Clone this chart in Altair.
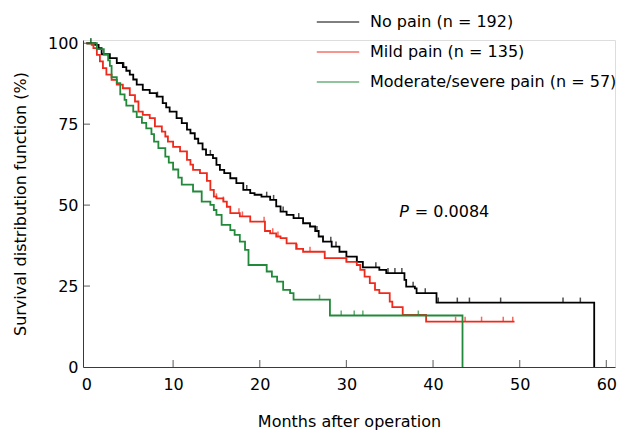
import altair as alt
import pandas as pd

# ---- data ----
groups = ["No pain (n = 192)", "Mild pain (n = 135)", "Moderate/severe pain (n = 57)"]
colors = ["#000000", "#ee2a1c", "#22893a"]

no_t = [0, 1.0, 1.4, 1.75, 2.7, 3.5, 4.2, 4.6, 5.0, 5.4, 5.8, 6.5, 7.3, 8.1, 8.8, 9.2, 9.6, 10.4,
        11.0, 11.6, 12.0, 12.5, 12.9, 13.4, 13.8, 14.6, 15.0, 15.4, 15.9, 16.6, 17.3, 18.1, 18.9,
        19.4, 20.2, 21.2, 21.9, 22.4, 23.1, 23.9, 25.0, 25.8, 26.4, 26.8, 27.3, 28.3, 29.2, 30.0,
        31.2, 31.9, 33.8, 34.6, 36.7, 36.9, 37.9, 38.1, 40.4, 58.6, 58.6]
no_s = [100, 99.5, 98.5, 96.6, 95.4, 93.9, 92.6, 91.5, 90.3, 88.8, 87.2, 85.6, 84.6, 83.5, 81.5, 80.2, 78.9, 76.9,
        75.3, 73.3, 72.2, 70.5, 69.1, 67.2, 65.5, 64.5, 62.4, 60.9, 59.9, 58.3, 56.8, 54.7, 53.7,
        53.2, 52.6, 51.6, 49.6, 48.0, 47.0, 46.0, 44.4, 43.4, 42.0, 40.3, 38.7, 37.2, 35.6, 34.1,
        32.5, 30.8, 30.0, 29.0, 26.9, 24.8, 24.3, 22.8, 19.9, 19.9, 0]
no_cens = [0.5, 4.3, 8.2, 14.3, 18.5, 20.8, 21.6, 22.7, 24.5, 26.6, 28.2, 28.8, 31.2, 33.4, 34.8,
           35.6, 36.4, 37.7, 39.1, 40.6, 42.8, 44.2, 47.8, 55.0, 57.0]

mild_t = [0, 0.6, 0.8, 1.2, 1.55, 1.9, 2.3, 2.9, 3.5, 4.2, 5.0, 5.6, 6.0, 6.5, 7.3, 7.9, 8.7, 9.1, 9.4,
          10.0, 10.8, 11.6, 12.0, 12.3, 13.1, 13.9, 14.3, 14.7, 15.0, 15.8, 16.2, 16.6, 17.7, 18.9,
          20.6, 21.2, 21.9, 22.4, 23.1, 24.2, 25.0, 27.5, 30.0, 31.2, 31.6, 32.1, 32.7, 33.3, 33.8,
          35.0, 35.3, 36.5, 39.2, 49.4]
mild_s = [100, 99.5, 98.5, 96.4, 94.4, 92.3, 90.3, 88.7, 87.2, 86.1, 84.0, 82.0, 78.9, 77.9, 76.9, 74.3, 72.7, 71.2, 69.6,
          68.0, 66.6, 64.0, 62.5, 60.9, 59.9, 57.5, 54.7, 52.6, 52.1, 51.1, 49.5, 47.5, 46.5, 44.9,
          42.0, 41.3, 40.3, 39.8, 38.2, 36.5, 35.6, 33.6, 32.5, 31.5, 30.0, 27.9, 25.9, 23.8, 22.8,
          20.2, 18.5, 16.1, 14.0, 14.0]
mild_cens = [15.0, 15.8, 17.6, 18.0, 20.5, 21.5, 22.1, 24.3, 25.8, 30.0, 42.6, 43.7, 45.6, 48.1, 49.2]

mod_t = [0, 1.2, 2.0, 2.5, 2.7, 2.9, 3.5, 3.9, 4.4, 4.6, 5.4, 5.8, 6.4, 6.9, 7.5, 7.8, 8.3, 9.1, 9.5,
         10.0, 10.6, 11.0, 12.3, 13.3, 14.3, 14.7, 15.0, 15.6, 16.6, 17.1, 17.7, 18.3, 18.7, 20.8,
         21.4, 22.0, 22.7, 23.5, 23.9, 28.1, 43.4, 43.4]
mod_s = [100, 98.2, 96.5, 94.7, 93.0, 89.5, 87.7, 84.2, 82.5, 80.7, 78.9, 77.2, 75.4, 73.7, 71.9, 69.6, 67.6, 65.0, 63.1,
         61.0, 58.5, 56.3, 54.2, 51.1, 50.1, 48.5, 47.0, 43.9, 42.3, 40.8, 38.7, 36.2, 31.5, 29.5,
         27.9, 26.4, 23.8, 22.8, 20.8, 15.9, 15.9, 0]
mod_cens = [0.5, 26.9, 29.4, 30.9, 31.9, 38.3]

x_ticks = [10, 20, 30, 40, 50, 60]
y_ticks = [25, 50, 75, 100]
X_MIN, X_MAX = -0.4, 61
Y_MIN, Y_MAX = 0, 101

# ---- build tables ----
def surv_at(ts, ss, t):
    v = ss[0]
    for ti, si in zip(ts, ss):
        if ti <= t:
            v = si
    return v

series = [(no_t, no_s, no_cens), (mild_t, mild_s, mild_cens), (mod_t, mod_s, mod_cens)]
rows, cens_rows = [], []
for g, (ts, ss, cs) in zip(groups, series):
    for i, (t, s) in enumerate(zip(ts, ss)):
        rows.append({"group": g, "t": t, "s": s, "order": i})
    for c in cs:
        cens_rows.append({"group": g, "t": c, "s": surv_at(ts, ss, c)})
df = pd.DataFrame(rows)
cdf = pd.DataFrame(cens_rows)

FONT = "DejaVu Sans"
AX = "#3a3a3a"

xs = alt.Scale(domain=[X_MIN, X_MAX], nice=False, zero=False)
ys = alt.Scale(domain=[Y_MIN, Y_MAX], nice=False)
color = alt.Color("group:N", scale=alt.Scale(domain=groups, range=colors),
                  legend=alt.Legend(title=None, orient="none", legendX=233, legendY=-40,
                                    symbolType="stroke", symbolSize=1800, symbolStrokeWidth=1,
                                    labelFontSize=16, labelFont=FONT, labelColor="#000",
                                    rowPadding=0, labelOffset=10, labelLimit=400))

lines = alt.Chart(df).mark_line(interpolate="step-after", strokeWidth=1.8).encode(
    x=alt.X("t:Q", scale=xs,
            axis=alt.Axis(title="Months after operation", values=x_ticks + [0], ticks=False,
                          tickSize=0, labelPadding=9, grid=False, domainColor=AX,
                          labelFontSize=16, labelFont=FONT, labelColor="#000",
                          titleFontSize=16, titleFont=FONT, titleFontWeight="normal",
                          titleColor="#000", titlePadding=21)),
    y=alt.Y("s:Q", scale=ys,
            axis=alt.Axis(title="Survival distribution function (%)", values=[0] + y_ticks,
                          ticks=False, tickSize=0, labelPadding=5, grid=False, domainColor=AX,
                          labelFontSize=16, labelFont=FONT, labelColor="#000",
                          titleFontSize=16, titleFont=FONT, titleFontWeight="normal",
                          titleColor="#000", titlePadding=19)),
    color=color,
    order="order:Q",
)

cens = alt.Chart(cdf).mark_tick(orient="vertical", size=5, thickness=1.5, yOffset=-2.5).encode(
    x=alt.X("t:Q", scale=xs), y=alt.Y("s:Q", scale=ys),
    color=alt.Color("group:N", scale=alt.Scale(domain=groups, range=colors), legend=None),
)

xt = alt.Chart(pd.DataFrame({"v": x_ticks})).mark_tick(
    orient="vertical", size=7, thickness=1.2, yOffset=-3.5, color=AX).encode(
    x=alt.X("v:Q", scale=xs), y=alt.datum(0))
yt = alt.Chart(pd.DataFrame({"v": y_ticks})).mark_tick(
    orient="horizontal", size=7, thickness=1.2, xOffset=3.5, color=AX).encode(
    y=alt.Y("v:Q", scale=ys), x=alt.datum(X_MIN))

p_lab = alt.Chart(pd.DataFrame({"t": [37.2], "s": [47.9]})).mark_text(
    text="P", fontStyle="italic", align="right", fontSize=16, font=FONT, color="#000").encode(
    x=alt.X("t:Q", scale=xs), y=alt.Y("s:Q", scale=ys))
p_val = alt.Chart(pd.DataFrame({"t": [37.2], "s": [47.9]})).mark_text(
    text="= 0.0084", align="left", dx=6, fontSize=16, font=FONT, color="#000").encode(
    x=alt.X("t:Q", scale=xs), y=alt.Y("s:Q", scale=ys))

chart = alt.layer(lines, cens, xt, yt, p_lab, p_val).properties(
    width=532, height=327,
    autosize=alt.AutoSizeParams(type="none"),
    padding={"left": 75, "top": 32, "right": 5, "bottom": 64},
).configure_view(stroke=None).configure(background="white")

chart.save("out.html", embed_options={"renderer": "svg", "actions": False})
